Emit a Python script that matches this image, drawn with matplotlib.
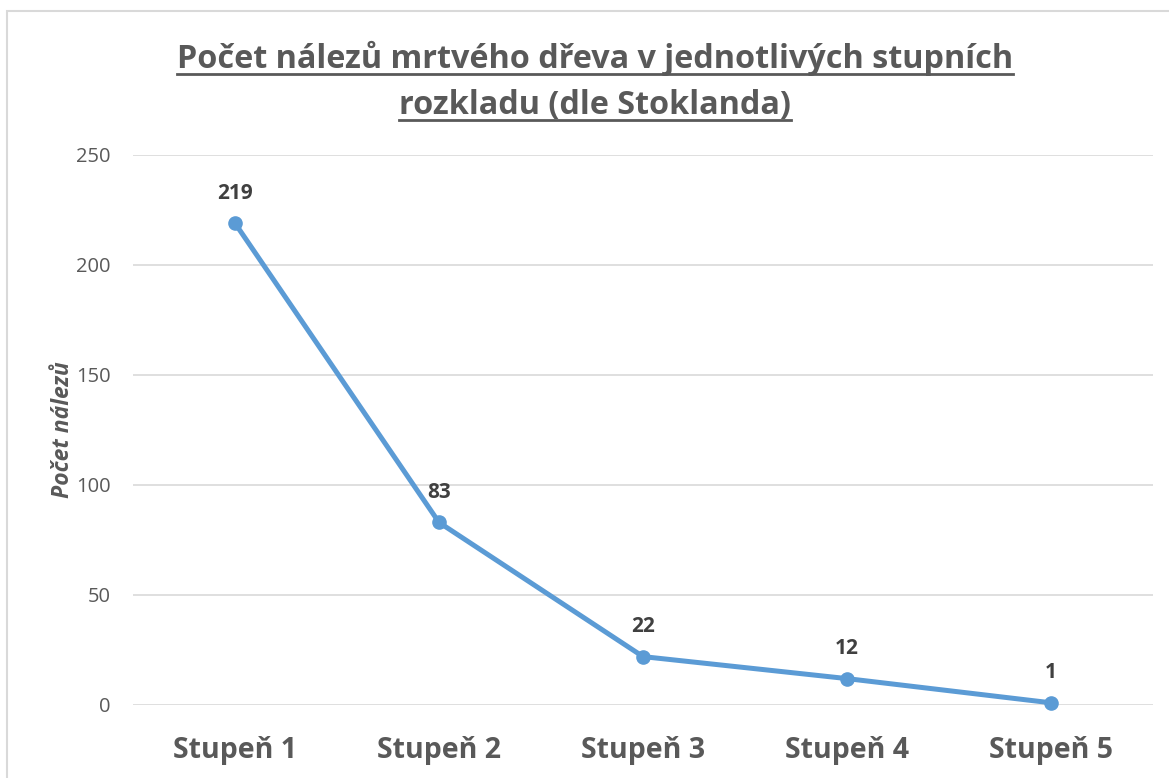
import matplotlib.pyplot as plt
from matplotlib.lines import Line2D
from matplotlib.patches import Rectangle

# --- data ---
categories = ["Stupeň 1", "Stupeň 2", "Stupeň 3", "Stupeň 4", "Stupeň 5"]
counts = [219, 83, 22, 12, 1]
y_ticks = [0, 50, 100, 150, 200, 250]
title_lines = [
  "Počet nálezů mrtvého dřeva v jednotlivých stupních",
  "rozkladu (dle Stoklanda)",
]
y_label = "Počet nálezů"

FONT = "Open Sans"
GREY = "#595959"
LINE_BLUE = "#5B9BD5"

plt.rcParams["font.family"] = [FONT, "DejaVu Sans"]

W, H = 1169, 778
fig = plt.figure(figsize=(W / 100, H / 100), dpi=100)

# chart frame (only top and left edges are visible in the crop)
fig.patches.append(Rectangle((7 / W, -0.1), 1.2, 1 - 11 / H + 0.1,
                             transform=fig.transFigure, fill=False,
                             edgecolor="#D9D9D9", linewidth=1.5))

ax = fig.add_axes([133 / W, 1 - 705 / H, (1153 - 133) / W, (705 - 155) / H])
x = list(range(len(categories)))
ax.plot(x, counts, color=LINE_BLUE, linewidth=3.6, marker="o",
        markersize=9.5, solid_capstyle="round", zorder=3, clip_on=False)

for xi, v in zip(x, counts):
  ax.annotate(str(v), (xi, v), xytext=(0, 14), textcoords="offset points",
              ha="center", va="bottom", fontsize=15, fontweight="bold",
              color="#404040")

ax.set_xlim(-0.5, len(categories) - 0.5)
ax.set_ylim(0, 250)
ax.set_yticks(y_ticks)
ax.set_xticks(x)
ax.set_xticklabels(categories, fontsize=20.5, fontweight="bold", color=GREY)
ax.tick_params(axis="y", length=0, pad=16, labelsize=14.5, labelcolor=GREY)
ax.tick_params(axis="x", length=0, pad=22)
ax.grid(axis="y", color="#D9D9D9", linewidth=1.2)
ax.set_axisbelow(True)
for s in ax.spines.values():
  s.set_visible(False)

ax.set_ylabel(y_label, fontsize=16.5, fontweight="bold", style="italic",
              color=GREY, labelpad=1)

# title with underline
baselines = [68, 114]
renderer = fig.canvas.get_renderer()
for text, by in zip(title_lines, baselines):
  t = fig.text(0.509, 1 - by / H, text, ha="center", va="baseline",
               fontsize=23.3, fontweight="bold", color=GREY)
  bb = t.get_window_extent(renderer=renderer)
  uy = 1 - (by + 6) / H
  fig.add_artist(Line2D([bb.x0 / W, bb.x1 / W], [uy, uy],
                        transform=fig.transFigure, color=GREY, linewidth=2))

fig.savefig("out.png", dpi=100)
